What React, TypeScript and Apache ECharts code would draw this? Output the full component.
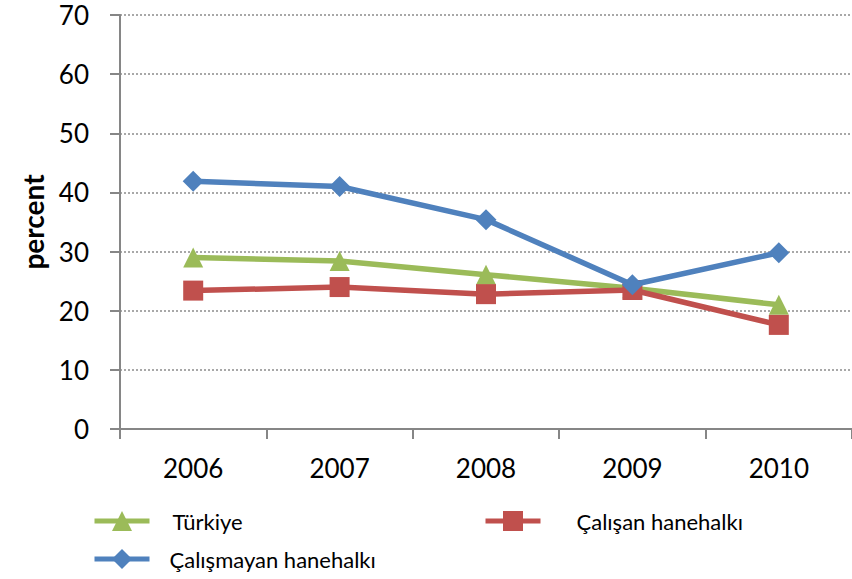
import React, { useEffect, useRef } from "react";
import * as echarts from "echarts";

const years = ["2006", "2007", "2008", "2009", "2010"];
const turkiye = [29.0, 28.4, 26.1, 23.8, 21.0];
const calisan = [23.4, 24.0, 22.8, 23.5, 17.6];
const calismayan = [41.9, 41.0, 35.4, 24.4, 29.8];
const yTicks = { min: 0, max: 70, interval: 10 };

const FONT = "Lato, 'Open Sans', sans-serif";

export default function App() {
  const ref = useRef<HTMLDivElement>(null);
  useEffect(() => {
    if (!ref.current) return;
    const chart = echarts.init(ref.current, null, { renderer: "svg" });
    const legendText = { fontFamily: FONT, fontSize: 22, color: "#000", padding: [0, 0, 0, 18] };
    const legendCommon = {
      itemWidth: 55,
      itemHeight: 25,
      lineStyle: { width: 5 },
    };
    chart.setOption({
      animation: false,
      textStyle: { fontFamily: FONT },
      grid: { left: 120, top: 15, right: -5, bottom: 150 },
      xAxis: {
        type: "category",
        data: years,
        boundaryGap: true,
        axisLine: { lineStyle: { color: "#868686", width: 2 } },
        axisTick: { show: true, length: 10, lineStyle: { color: "#868686", width: 2 } },
        axisLabel: { fontSize: 26, color: "#000", margin: 26, fontFamily: FONT },
      },
      yAxis: {
        type: "value",
        min: yTicks.min,
        max: yTicks.max,
        interval: yTicks.interval,
        name: "percent",
        nameLocation: "middle",
        nameGap: 73,
        nameTextStyle: { fontSize: 28, fontWeight: "bold", color: "#000", fontFamily: FONT },
        axisLine: { show: true, lineStyle: { color: "#868686", width: 2 } },
        axisTick: { show: true, length: 10, lineStyle: { color: "#868686", width: 2 } },
        axisLabel: { fontSize: 26, color: "#000", margin: 31, fontFamily: FONT },
        splitLine: { lineStyle: { color: "#8c8c8c", type: [2, 2], width: 1.5 } },
      },
      legend: [
        {
          data: ["Türkiye"],
          left: 87,
          top: 505,
          ...legendCommon,
          textStyle: legendText,
        },
        {
          data: ["Çalışan hanehalkı"],
          left: 478,
          top: 505,
          ...legendCommon,
          textStyle: { ...legendText, padding: [0, 0, 0, 31] },
        },
        {
          data: ["Çalışmayan hanehalkı"],
          left: 87,
          top: 543,
          ...legendCommon,
          textStyle: { ...legendText, padding: [0, 0, 0, 15] },
        },
      ],
      series: [
        {
          name: "Türkiye",
          type: "line",
          data: turkiye,
          symbol: "triangle",
          symbolSize: 20,
          lineStyle: { color: "#9bbb59", width: 5.5 },
          itemStyle: { color: "#9bbb59" },
          z: 2,
        },
        {
          name: "Çalışan hanehalkı",
          type: "line",
          data: calisan,
          symbol: "rect",
          symbolSize: 20,
          lineStyle: { color: "#c0504d", width: 5.5 },
          itemStyle: { color: "#c0504d" },
          z: 3,
        },
        {
          name: "Çalışmayan hanehalkı",
          type: "line",
          data: calismayan,
          symbol: "diamond",
          symbolSize: 21,
          lineStyle: { color: "#4f81bd", width: 5.5 },
          itemStyle: { color: "#4f81bd" },
          z: 4,
        },
      ],
    });
    return () => chart.dispose();
  }, []);
  return <div ref={ref} style={{ width: 852, height: 579, position: "absolute", left: 0, top: 0 }} />;
}
